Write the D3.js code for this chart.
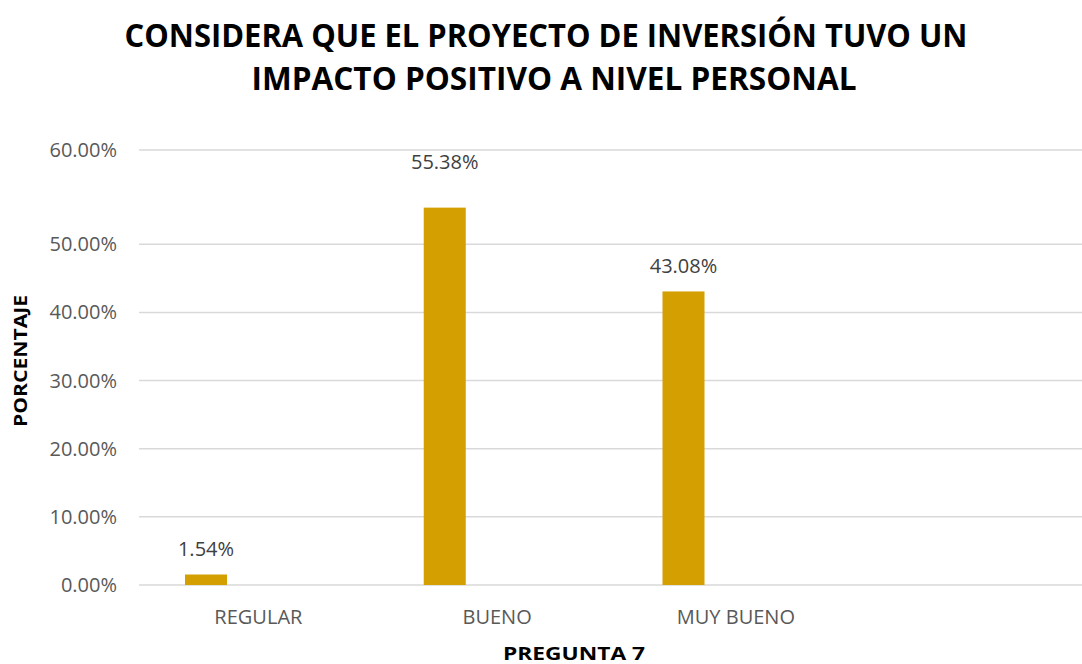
<!DOCTYPE html>
<html>
<head>
<meta charset="utf-8">
<script src="https://cdn.jsdelivr.net/npm/d3@7"></script>
<style>
  html, body { margin: 0; padding: 0; background: #fff; }
  svg { display: block; }
</style>
</head>
<body>
<svg id="chart" width="1082" height="664"></svg>
<script>
// ---- data ----
const titleLines = ["CONSIDERA QUE EL PROYECTO DE INVERSIÓN TUVO UN", "IMPACTO POSITIVO A NIVEL PERSONAL"];
const categories = ["REGULAR", "BUENO", "MUY BUENO", ""];
const seriesNames = ["PREGUNTA 7", "serie vacía"];
const values = [1.54, 55.38, 43.08, null];
const emptySeries = [null, null, null, null];
const yTicks = [0, 10, 20, 30, 40, 50, 60];
const xTitle = "PREGUNTA 7";
const yTitle = "PORCENTAJE";

// ---- layout ----
const svg = d3.select("#chart");
const W = 1082, H = 664;
const left = 139, right = 1094, bottom = 585;

const y = d3.scaleLinear().domain([0, 56, 60]).range([bottom, 203.4, 150]);
const x0 = d3.scaleBand().domain(categories).range([left, right]).paddingInner(0).paddingOuter(0);
const x1 = d3.scaleBand().domain(seriesNames).range([0, x0.bandwidth()]).paddingInner(0.599).paddingOuter(0.439);

const textFont = "'Open Sans', 'DejaVu Sans', sans-serif";

// title
const titleX = [546, 554];
const titleY = [47, 90];
const titleLen = [843, 605];
titleLines.forEach((t, i) => {
  svg.append("text")
    .attr("x", titleX[i]).attr("y", titleY[i])
    .attr("text-anchor", "middle")
    .attr("font-family", textFont)
    .attr("font-weight", "bold")
    .attr("font-size", 33)
    .attr("textLength", titleLen[i])
    .attr("lengthAdjust", "spacingAndGlyphs")
    .attr("fill", "#000")
    .text(t);
});

// gridlines
svg.append("g").selectAll("line").data(yTicks).join("line")
  .attr("x1", left).attr("x2", W)
  .attr("y1", d => y(d)).attr("y2", d => y(d))
  .attr("stroke", "#d9d9d9").attr("stroke-width", 1.5);

// y tick labels
svg.append("g").selectAll("text").data(yTicks).join("text")
  .attr("x", 117).attr("y", d => y(d))
  .attr("dy", "0.35em")
  .attr("text-anchor", "end")
  .attr("font-family", textFont)
  .attr("font-size", 20)
  .attr("fill", "#595959")
  .text(d => d3.format(".2f")(d) + "%");

// bars
const barData = categories.map((c, i) => ({ c, v: values[i], s: seriesNames[0] }))
  .concat(categories.map((c, i) => ({ c, v: emptySeries[i], s: seriesNames[1] })))
  .filter(d => d.v != null);

svg.append("g").selectAll("rect").data(barData).join("rect")
  .attr("x", d => x0(d.c) + x1(d.s))
  .attr("width", x1.bandwidth())
  .attr("y", d => y(d.v))
  .attr("height", d => y(0) - y(d.v))
  .attr("fill", "#D49F00");

// data labels
const labelOffset = 3.7;
svg.append("g").selectAll("text").data(barData).join("text")
  .attr("x", d => x0(d.c) + x1(d.s) + x1.bandwidth() / 2)
  .attr("y", d => y(d.v + labelOffset))
  .attr("dy", "0.35em")
  .attr("text-anchor", "middle")
  .attr("font-family", textFont)
  .attr("font-size", 20)
  .attr("fill", "#404040")
  .text(d => d3.format(".2f")(d.v) + "%");

// x category labels
svg.append("g").selectAll("text").data(categories.filter(c => c !== "")).join("text")
  .attr("x", d => x0(d) + x0.bandwidth() / 2)
  .attr("y", 624)
  .attr("text-anchor", "middle")
  .attr("font-family", textFont)
  .attr("font-size", 20)
  .attr("fill", "#595959")
  .text(d => d);

// axis titles
svg.append("text")
  .attr("x", 574).attr("y", 660)
  .attr("text-anchor", "middle")
  .attr("font-family", textFont)
  .attr("font-weight", "bold")
  .attr("font-size", 17)
  .attr("textLength", 142)
  .attr("lengthAdjust", "spacingAndGlyphs")
  .attr("fill", "#000")
  .text(xTitle);

svg.append("text")
  .attr("transform", "translate(27,361) rotate(-90)")
  .attr("text-anchor", "middle")
  .attr("font-family", textFont)
  .attr("font-weight", "bold")
  .attr("font-size", 17)
  .attr("textLength", 132)
  .attr("lengthAdjust", "spacingAndGlyphs")
  .attr("fill", "#000")
  .text(yTitle);
</script>
</body>
</html>
